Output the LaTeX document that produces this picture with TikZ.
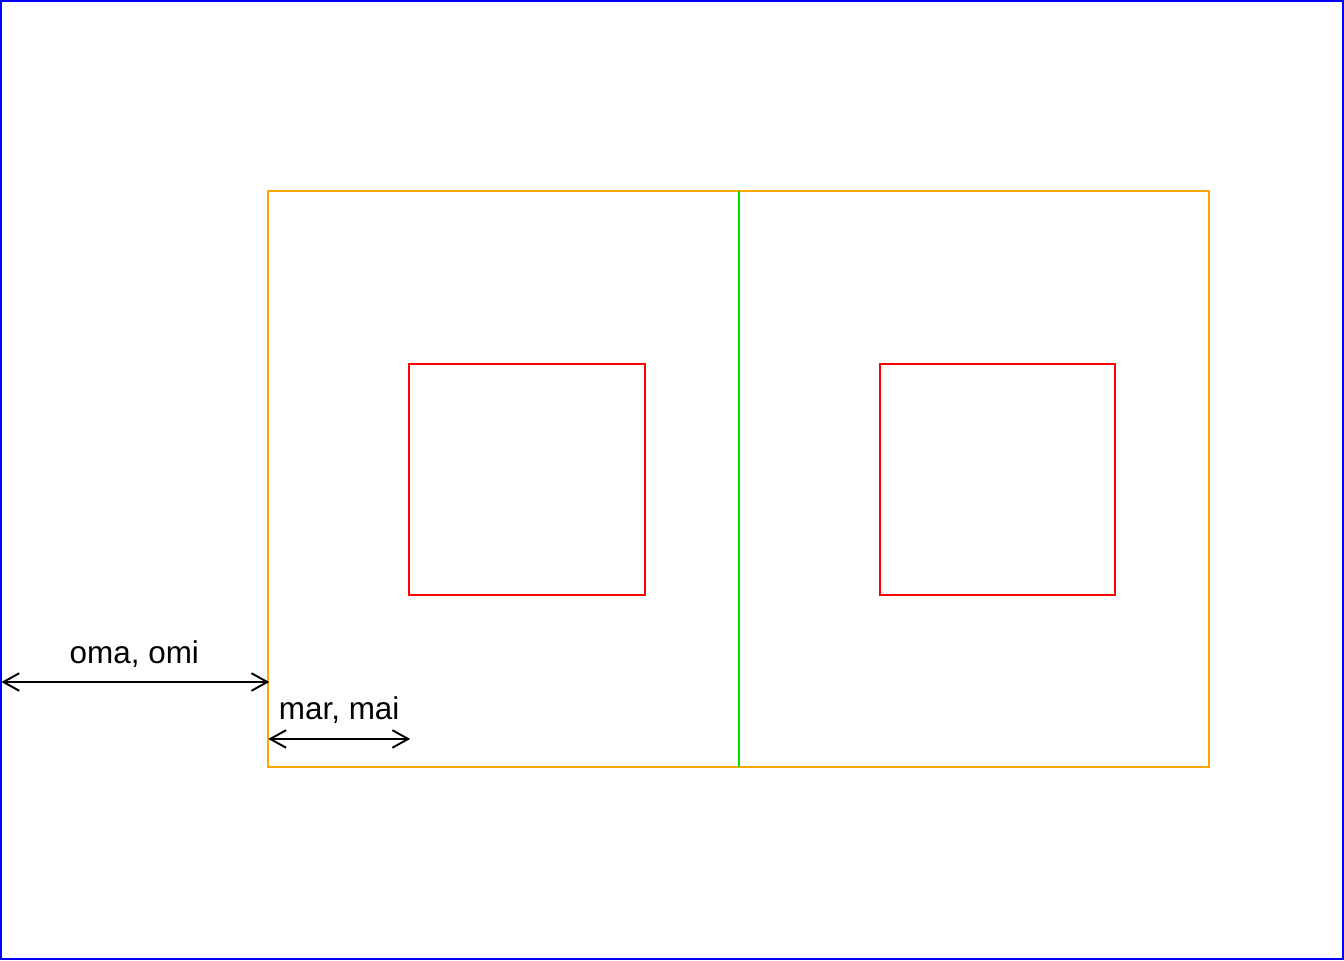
\documentclass[tikz,border=0pt]{standalone}
\usepackage{fontspec}
\setmainfont{Liberation Sans}
\usetikzlibrary{positioning, arrows.meta, calc}
\definecolor{rorange}{HTML}{FFA500}
\definecolor{rgreen}{HTML}{00E000}

\begin{document}
\begin{tikzpicture}[
  x=0.02cm, y=-0.02cm,
  frame/.style={draw=blue, line width=1.2pt},
  region/.style={draw=rorange, line width=1.1pt},
  divider/.style={draw=rgreen, line width=1.1pt},
  plotbox/.style={draw=red, line width=1.1pt},
  arrow/.style={{Straight Barb[length=9pt, width=10pt]}-{Straight Barb[length=9pt, width=10pt]},
                line width=1.1pt, black},
  label/.style={font=\fontsize{17.9}{20}\selectfont, inner sep=0pt, anchor=base},
]
  % device outline
  \draw[frame] (0.6,0.6) rectangle (1343.4,959.4);
  \useasboundingbox (0,0) rectangle (1344,960);

  % figure region and its two halves
  \draw[region] (268,191) rectangle (1209,767);
  \coordinate (divtop) at (739,191);
  \coordinate (divbot) at (739,767);
  \draw[divider] (divtop) -- (divbot);

  % plot regions
  \draw[plotbox] (409,364) rectangle (645,595);
  \draw[plotbox] (880,364) rectangle (1115,595);

  % outer margin
  \coordinate (omaL) at (1,682);
  \coordinate (omaR) at (269,682);
  \draw[arrow] (omaL) -- (omaR);
  \node[label] (oma) at (134,663) {oma, omi};

  % inner margin
  \coordinate (marL) at (268,739);
  \coordinate (marR) at (410,739);
  \draw[arrow] (marL) -- (marR);
  \node[label] (mar) at (339,720) {mar, mai};
\end{tikzpicture}
\end{document}
